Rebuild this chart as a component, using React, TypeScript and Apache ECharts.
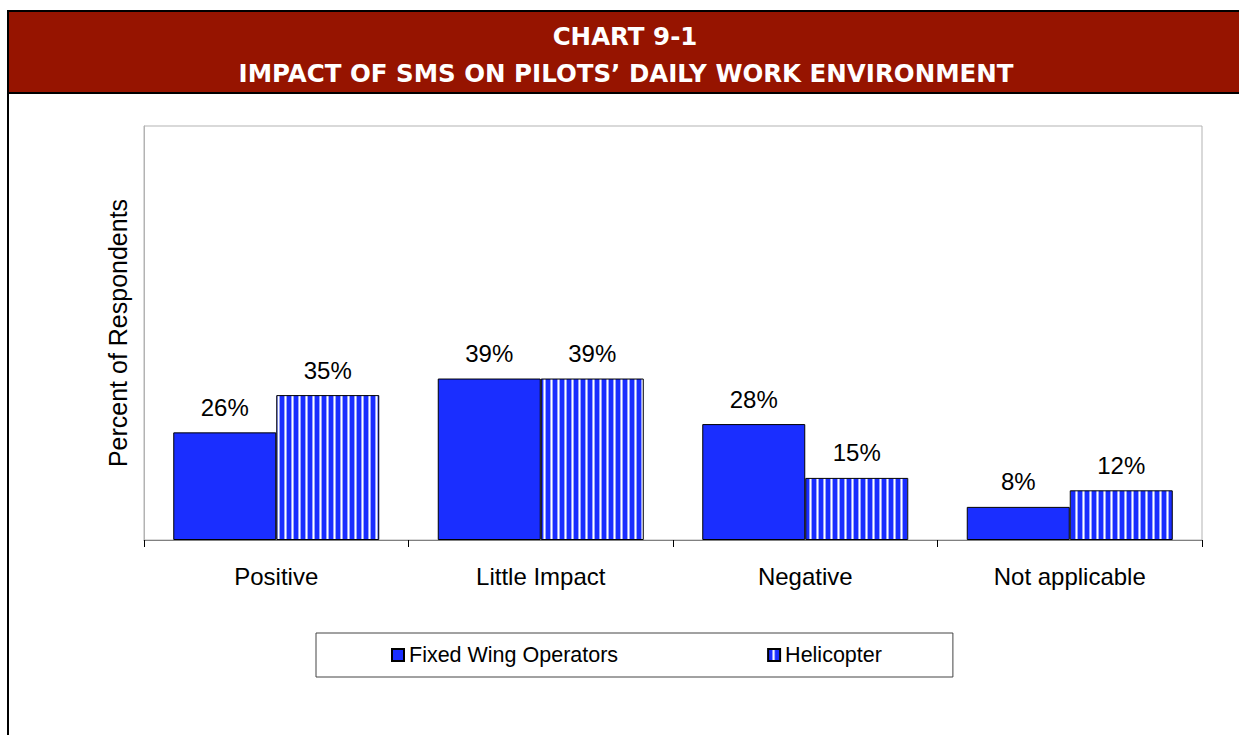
import React, { useEffect, useRef } from "react";
import * as echarts from "echarts";

const titleLines = ["CHART 9-1", "IMPACT OF SMS ON PILOTS’ DAILY WORK ENVIRONMENT"];
const categories = ["Positive", "Little Impact", "Negative", "Not applicable"];
const seriesNames = ["Fixed Wing Operators", "Helicopter"];
const fixedWing = [26, 39, 28, 8];
const helicopter = [35, 39, 15, 12];
const yAxisName = "Percent of Respondents";

function makeStripe() {
  const c = document.createElement("canvas");
  c.width = 7;
  c.height = 4;
  const ctx = c.getContext("2d")!;
  const cols = ["#1a2eff", "#1a2eff", "#1a2eff", "#1a2eff", "#9aa6ff", "#ffffff", "#9aa6ff"];
  cols.forEach((col, i) => {
    ctx.fillStyle = col;
    ctx.fillRect(i, 0, 1, 4);
  });
  return c;
}

export default function App() {
  const ref = useRef<HTMLDivElement>(null);
  useEffect(() => {
    if (!ref.current) return;
    const chart = echarts.init(ref.current, null, { renderer: "svg" });
    const stripe: any = { image: makeStripe(), repeat: "repeat", imageWidth: 7, imageHeight: 4 };
    const font = "'Liberation Sans', Arial, sans-serif";
    const titleFont = "bold 24.5px 'DejaVu Sans', Verdana, sans-serif";
    chart.setOption({
      animation: false,
      backgroundColor: "#ffffff",
      textStyle: { fontFamily: font },
      graphic: [
        { type: "rect", shape: { x: 8, y: 11, width: 1250, height: 740 }, style: { fill: "#fff", stroke: "#000", lineWidth: 2 }, z: -10 },
        { type: "rect", shape: { x: 9, y: 12, width: 1250, height: 80 }, style: { fill: "#961400" }, z: -9 },
        { type: "line", shape: { x1: 8, y1: 93, x2: 1250, y2: 93 }, style: { stroke: "#000", lineWidth: 2 }, z: -8 },
        {
          type: "text", x: 625, y: 36, z: 10,
          style: { text: titleLines[0], fill: "#fff", font: titleFont, textAlign: "center", textVerticalAlign: "middle" },
        },
        {
          type: "text", x: 626, y: 73, z: 10,
          style: { text: titleLines[1], fill: "#fff", font: titleFont, textAlign: "center", textVerticalAlign: "middle" },
        },
      ],
      grid: { left: 144, right: 37, top: 126, bottom: 195, show: true, borderColor: "#b3b3b3", borderWidth: 1, backgroundColor: "transparent" },
      legend: {
        left: 316,
        top: 633,
        padding: [11, 71, 11, 75],
        itemGap: 149,
        itemWidth: 12,
        itemHeight: 12,
        icon: "rect",
        borderColor: "#444",
        borderWidth: 1,
        textStyle: { fontSize: 21.5, color: "#000", fontFamily: font },
        data: seriesNames,
      },
      xAxis: {
        type: "category",
        data: categories,
        axisLine: { lineStyle: { color: "#808080", width: 1 } },
        axisTick: { show: true, alignWithLabel: false, length: 7, lineStyle: { color: "#000", width: 1 } },
        axisLabel: { fontSize: 24, color: "#000", margin: 24, fontFamily: font },
      },
      yAxis: {
        type: "value",
        min: 0,
        max: 100,
        axisLabel: { show: false },
        axisTick: { show: false },
        splitLine: { show: false },
        axisLine: { show: true, lineStyle: { color: "#b3b3b3" } },
        name: yAxisName,
        nameLocation: "middle",
        nameGap: 14,
        nameTextStyle: { fontSize: 25, color: "#000", fontFamily: font },
      },
      series: [
        {
          name: seriesNames[0],
          type: "bar",
          data: fixedWing,
          barWidth: 103,
          barGap: "0%",
          itemStyle: { color: "#1a2eff", borderColor: "#000", borderWidth: 1 },
          label: { show: true, position: "top", distance: 13, formatter: "{c}%", fontSize: 24, color: "#000", fontFamily: font },
        },
        {
          name: seriesNames[1],
          type: "bar",
          data: helicopter,
          barWidth: 103,
          barGap: "0%",
          itemStyle: { color: stripe, borderColor: "#000", borderWidth: 1 },
          label: { show: true, position: "top", distance: 13, formatter: "{c}%", fontSize: 24, color: "#000", fontFamily: font },
        },
      ],
    });
    return () => chart.dispose();
  }, []);
  return <div ref={ref} style={{ position: "absolute", left: 0, top: 0, width: 1239, height: 735 }} />;
}
